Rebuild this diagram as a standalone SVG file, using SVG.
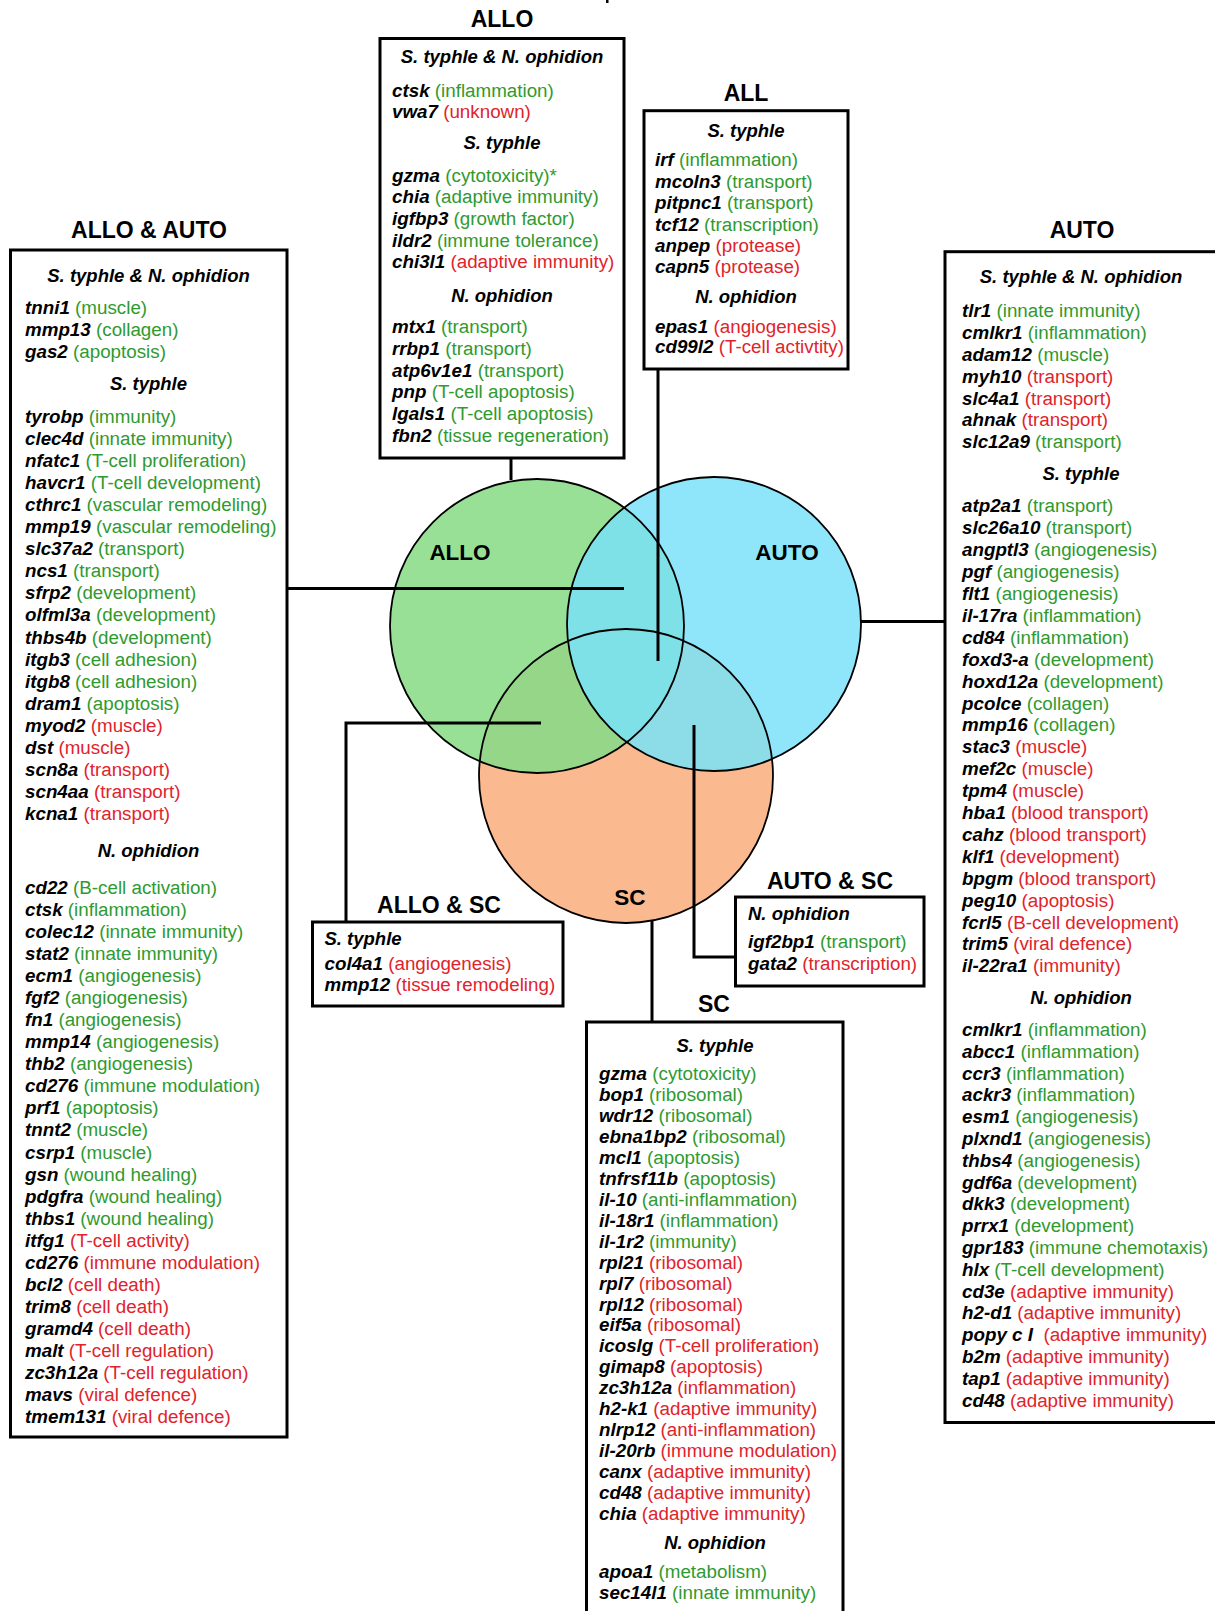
<svg xmlns="http://www.w3.org/2000/svg" width="1215" height="1611" viewBox="0 0 1215 1611">
<style>
text{font-family:"Liberation Sans",Arial,Helvetica,sans-serif;font-size:18.8px;fill:#000}
.gn{font-weight:bold;font-style:italic}
.u{fill:#2f9a2f}
.d{fill:#e1232b}
.sub{font-weight:bold;font-style:italic;text-anchor:middle;font-size:18.5px}
.subl{font-weight:bold;font-style:italic;font-size:18.5px}
.hd{font-weight:bold;font-size:23px;text-anchor:middle}
.cl{font-weight:bold;font-size:22.5px;text-anchor:middle}
.box{fill:#fff;stroke:#000;stroke-width:3}
.ln{fill:none;stroke:#000;stroke-width:3}
.ring{fill:none;stroke:#000;stroke-width:1.8}
</style>
<defs>
<clipPath id="cSC"><circle cx="626" cy="776" r="147"/></clipPath>
<clipPath id="cALLO"><circle cx="537" cy="626" r="147"/></clipPath>
</defs>
<rect x="0" y="0" width="1215" height="1611" fill="#fff"/>
<rect x="606" y="0" width="2.5" height="3" fill="#000"/>

<g id="venn">
<circle cx="626" cy="776" r="147" fill="#fab98f"/>
<circle cx="537" cy="626" r="147" fill="#98e096"/>
<circle cx="714" cy="624" r="147" fill="#8fe6fa"/>
<circle cx="537" cy="626" r="147" fill="#95d689" clip-path="url(#cSC)"/>
<circle cx="714" cy="624" r="147" fill="#8ddde9" clip-path="url(#cSC)"/>
<circle cx="714" cy="624" r="147" fill="#7fe1e8" clip-path="url(#cALLO)"/>
<circle class="ring" cx="626" cy="776" r="147"/>
<circle class="ring" cx="537" cy="626" r="147"/>
<circle class="ring" cx="714" cy="624" r="147"/>
<text class="cl" x="460" y="560">ALLO</text>
<text class="cl" x="787" y="560">AUTO</text>
<text class="cl" x="630" y="905">SC</text>
</g>

<g id="connectors">
<path class="ln" d="M287 588.5H624"/>
<path class="ln" d="M511 457V480"/>
<path class="ln" d="M658 368V661"/>
<path class="ln" d="M945 621.5H861"/>
<path class="ln" d="M541 723H346V922"/>
<path class="ln" d="M694 725V957H735"/>
<path class="ln" d="M652 921V1022"/>
</g>

<g id="allo">
<text class="hd" x="502" y="26.7">ALLO</text>
<rect class="box" x="380" y="38.5" width="244" height="419.5"/>
<text class="sub" x="502" y="63.3">S. typhle &amp; N. ophidion</text>
<text x="392" y="96.7"><tspan class="gn">ctsk </tspan><tspan class="u">(inflammation)</tspan></text>
<text x="392" y="118.3"><tspan class="gn">vwa7 </tspan><tspan class="d">(unknown)</tspan></text>
<text class="sub" x="502" y="149.3">S. typhle</text>
<text x="392" y="181.7"><tspan class="gn">gzma </tspan><tspan class="u">(cytotoxicity)*</tspan></text>
<text x="392" y="203.3"><tspan class="gn">chia </tspan><tspan class="u">(adaptive immunity)</tspan></text>
<text x="392" y="225"><tspan class="gn">igfbp3 </tspan><tspan class="u">(growth factor)</tspan></text>
<text x="392" y="246.7"><tspan class="gn">ildr2 </tspan><tspan class="u">(immune tolerance)</tspan></text>
<text x="392" y="268.3"><tspan class="gn">chi3l1 </tspan><tspan class="d">(adaptive immunity)</tspan></text>
<text class="sub" x="502" y="301.7">N. ophidion</text>
<text x="392" y="333.3"><tspan class="gn">mtx1 </tspan><tspan class="u">(transport)</tspan></text>
<text x="392" y="355"><tspan class="gn">rrbp1 </tspan><tspan class="u">(transport)</tspan></text>
<text x="392" y="376.7"><tspan class="gn">atp6v1e1 </tspan><tspan class="u">(transport)</tspan></text>
<text x="392" y="398.3"><tspan class="gn">pnp </tspan><tspan class="u">(T-cell apoptosis)</tspan></text>
<text x="392" y="420"><tspan class="gn">lgals1 </tspan><tspan class="u">(T-cell apoptosis)</tspan></text>
<text x="392" y="441.7"><tspan class="gn">fbn2 </tspan><tspan class="u">(tissue regeneration)</tspan></text>
</g>

<g id="all">
<text class="hd" x="746" y="100.7">ALL</text>
<rect class="box" x="644" y="110.7" width="204" height="258.3"/>
<text class="sub" x="746" y="136.7">S. typhle</text>
<text x="655" y="166"><tspan class="gn">irf </tspan><tspan class="u">(inflammation)</tspan></text>
<text x="655" y="187.7"><tspan class="gn">mcoln3 </tspan><tspan class="u">(transport)</tspan></text>
<text x="655" y="209"><tspan class="gn">pitpnc1 </tspan><tspan class="u">(transport)</tspan></text>
<text x="655" y="230.7"><tspan class="gn">tcf12 </tspan><tspan class="u">(transcription)</tspan></text>
<text x="655" y="252"><tspan class="gn">anpep </tspan><tspan class="d">(protease)</tspan></text>
<text x="655" y="273.3"><tspan class="gn">capn5 </tspan><tspan class="d">(protease)</tspan></text>
<text class="sub" x="746" y="303.3">N. ophidion</text>
<text x="655" y="332.7"><tspan class="gn">epas1 </tspan><tspan class="d">(angiogenesis)</tspan></text>
<text x="655" y="353.3"><tspan class="gn">cd99l2 </tspan><tspan class="d">(T-cell activtity)</tspan></text>
</g>

<g id="allo-auto">
<text class="hd" x="149" y="238">ALLO &amp; AUTO</text>
<rect class="box" x="10.5" y="250" width="276.5" height="1187"/>
<text class="sub" x="148.5" y="281.7">S. typhle &amp; N. ophidion</text>
<text x="25" y="314"><tspan class="gn">tnni1 </tspan><tspan class="u">(muscle)</tspan></text>
<text x="25" y="336.1"><tspan class="gn">mmp13 </tspan><tspan class="u">(collagen)</tspan></text>
<text x="25" y="358.2"><tspan class="gn">gas2 </tspan><tspan class="u">(apoptosis)</tspan></text>
<text class="sub" x="148.5" y="390">S. typhle</text>
<text x="25" y="422.7"><tspan class="gn">tyrobp </tspan><tspan class="u">(immunity)</tspan></text>
<text x="25" y="444.8"><tspan class="gn">clec4d </tspan><tspan class="u">(innate immunity)</tspan></text>
<text x="25" y="466.9"><tspan class="gn">nfatc1 </tspan><tspan class="u">(T-cell proliferation)</tspan></text>
<text x="25" y="488.9"><tspan class="gn">havcr1 </tspan><tspan class="u">(T-cell development)</tspan></text>
<text x="25" y="511"><tspan class="gn">cthrc1 </tspan><tspan class="u">(vascular remodeling)</tspan></text>
<text x="25" y="533.1"><tspan class="gn">mmp19 </tspan><tspan class="u">(vascular remodeling)</tspan></text>
<text x="25" y="555.2"><tspan class="gn">slc37a2 </tspan><tspan class="u">(transport)</tspan></text>
<text x="25" y="577.3"><tspan class="gn">ncs1 </tspan><tspan class="u">(transport)</tspan></text>
<text x="25" y="599.3"><tspan class="gn">sfrp2 </tspan><tspan class="u">(development)</tspan></text>
<text x="25" y="621.4"><tspan class="gn">olfml3a </tspan><tspan class="u">(development)</tspan></text>
<text x="25" y="643.5"><tspan class="gn">thbs4b </tspan><tspan class="u">(development)</tspan></text>
<text x="25" y="665.6"><tspan class="gn">itgb3 </tspan><tspan class="u">(cell adhesion)</tspan></text>
<text x="25" y="687.7"><tspan class="gn">itgb8 </tspan><tspan class="u">(cell adhesion)</tspan></text>
<text x="25" y="709.7"><tspan class="gn">dram1 </tspan><tspan class="u">(apoptosis)</tspan></text>
<text x="25" y="731.8"><tspan class="gn">myod2 </tspan><tspan class="d">(muscle)</tspan></text>
<text x="25" y="753.9"><tspan class="gn">dst </tspan><tspan class="d">(muscle)</tspan></text>
<text x="25" y="776"><tspan class="gn">scn8a </tspan><tspan class="d">(transport)</tspan></text>
<text x="25" y="798.1"><tspan class="gn">scn4aa </tspan><tspan class="d">(transport)</tspan></text>
<text x="25" y="820.1"><tspan class="gn">kcna1 </tspan><tspan class="d">(transport)</tspan></text>
<text class="sub" x="148.5" y="857">N. ophidion</text>
<text x="25" y="893.5"><tspan class="gn">cd22 </tspan><tspan class="u">(B-cell activation)</tspan></text>
<text x="25" y="915.6"><tspan class="gn">ctsk </tspan><tspan class="u">(inflammation)</tspan></text>
<text x="25" y="937.7"><tspan class="gn">colec12 </tspan><tspan class="u">(innate immunity)</tspan></text>
<text x="25" y="959.7"><tspan class="gn">stat2 </tspan><tspan class="u">(innate immunity)</tspan></text>
<text x="25" y="981.8"><tspan class="gn">ecm1 </tspan><tspan class="u">(angiogenesis)</tspan></text>
<text x="25" y="1003.9"><tspan class="gn">fgf2 </tspan><tspan class="u">(angiogenesis)</tspan></text>
<text x="25" y="1026"><tspan class="gn">fn1 </tspan><tspan class="u">(angiogenesis)</tspan></text>
<text x="25" y="1048.1"><tspan class="gn">mmp14 </tspan><tspan class="u">(angiogenesis)</tspan></text>
<text x="25" y="1070.1"><tspan class="gn">thb2 </tspan><tspan class="u">(angiogenesis)</tspan></text>
<text x="25" y="1092.2"><tspan class="gn">cd276 </tspan><tspan class="u">(immune modulation)</tspan></text>
<text x="25" y="1114.3"><tspan class="gn">prf1 </tspan><tspan class="u">(apoptosis)</tspan></text>
<text x="25" y="1136.4"><tspan class="gn">tnnt2 </tspan><tspan class="u">(muscle)</tspan></text>
<text x="25" y="1158.5"><tspan class="gn">csrp1 </tspan><tspan class="u">(muscle)</tspan></text>
<text x="25" y="1180.5"><tspan class="gn">gsn </tspan><tspan class="u">(wound healing)</tspan></text>
<text x="25" y="1202.6"><tspan class="gn">pdgfra </tspan><tspan class="u">(wound healing)</tspan></text>
<text x="25" y="1224.7"><tspan class="gn">thbs1 </tspan><tspan class="u">(wound healing)</tspan></text>
<text x="25" y="1246.8"><tspan class="gn">itfg1 </tspan><tspan class="d">(T-cell activity)</tspan></text>
<text x="25" y="1268.9"><tspan class="gn">cd276 </tspan><tspan class="d">(immune modulation)</tspan></text>
<text x="25" y="1290.9"><tspan class="gn">bcl2 </tspan><tspan class="d">(cell death)</tspan></text>
<text x="25" y="1313"><tspan class="gn">trim8 </tspan><tspan class="d">(cell death)</tspan></text>
<text x="25" y="1335.1"><tspan class="gn">gramd4 </tspan><tspan class="d">(cell death)</tspan></text>
<text x="25" y="1357.2"><tspan class="gn">malt </tspan><tspan class="d">(T-cell regulation)</tspan></text>
<text x="25" y="1379.3"><tspan class="gn">zc3h12a </tspan><tspan class="d">(T-cell regulation)</tspan></text>
<text x="25" y="1401.3"><tspan class="gn">mavs </tspan><tspan class="d">(viral defence)</tspan></text>
<text x="25" y="1423.4"><tspan class="gn">tmem131 </tspan><tspan class="d">(viral defence)</tspan></text>
</g>

<g id="auto">
<text class="hd" x="1082" y="238">AUTO</text>
<rect class="box" x="945" y="251.7" width="273" height="1170.8"/>
<text class="sub" x="1081" y="282.7">S. typhle &amp; N. ophidion</text>
<text x="962" y="317.3"><tspan class="gn">tlr1 </tspan><tspan class="u">(innate immunity)</tspan></text>
<text x="962" y="339.1"><tspan class="gn">cmlkr1 </tspan><tspan class="u">(inflammation)</tspan></text>
<text x="962" y="360.9"><tspan class="gn">adam12 </tspan><tspan class="u">(muscle)</tspan></text>
<text x="962" y="382.7"><tspan class="gn">myh10 </tspan><tspan class="d">(transport)</tspan></text>
<text x="962" y="404.5"><tspan class="gn">slc4a1 </tspan><tspan class="d">(transport)</tspan></text>
<text x="962" y="426.3"><tspan class="gn">ahnak </tspan><tspan class="d">(transport)</tspan></text>
<text x="962" y="448.1"><tspan class="gn">slc12a9 </tspan><tspan class="u">(transport)</tspan></text>
<text class="sub" x="1081" y="479.5">S. typhle</text>
<text x="962" y="512.4"><tspan class="gn">atp2a1 </tspan><tspan class="u">(transport)</tspan></text>
<text x="962" y="534.3"><tspan class="gn">slc26a10 </tspan><tspan class="u">(transport)</tspan></text>
<text x="962" y="556.2"><tspan class="gn">angptl3 </tspan><tspan class="u">(angiogenesis)</tspan></text>
<text x="962" y="578.1"><tspan class="gn">pgf </tspan><tspan class="u">(angiogenesis)</tspan></text>
<text x="962" y="600"><tspan class="gn">flt1 </tspan><tspan class="u">(angiogenesis)</tspan></text>
<text x="962" y="621.9"><tspan class="gn">il-17ra </tspan><tspan class="u">(inflammation)</tspan></text>
<text x="962" y="643.8"><tspan class="gn">cd84 </tspan><tspan class="u">(inflammation)</tspan></text>
<text x="962" y="665.7"><tspan class="gn">foxd3-a </tspan><tspan class="u">(development)</tspan></text>
<text x="962" y="687.6"><tspan class="gn">hoxd12a </tspan><tspan class="u">(development)</tspan></text>
<text x="962" y="709.5"><tspan class="gn">pcolce </tspan><tspan class="u">(collagen)</tspan></text>
<text x="962" y="731.4"><tspan class="gn">mmp16 </tspan><tspan class="u">(collagen)</tspan></text>
<text x="962" y="753.3"><tspan class="gn">stac3 </tspan><tspan class="d">(muscle)</tspan></text>
<text x="962" y="775.2"><tspan class="gn">mef2c </tspan><tspan class="d">(muscle)</tspan></text>
<text x="962" y="797.1"><tspan class="gn">tpm4 </tspan><tspan class="d">(muscle)</tspan></text>
<text x="962" y="819"><tspan class="gn">hba1 </tspan><tspan class="d">(blood transport)</tspan></text>
<text x="962" y="840.9"><tspan class="gn">cahz </tspan><tspan class="d">(blood transport)</tspan></text>
<text x="962" y="862.8"><tspan class="gn">klf1 </tspan><tspan class="d">(development)</tspan></text>
<text x="962" y="884.7"><tspan class="gn">bpgm </tspan><tspan class="d">(blood transport)</tspan></text>
<text x="962" y="906.6"><tspan class="gn">peg10 </tspan><tspan class="d">(apoptosis)</tspan></text>
<text x="962" y="928.5"><tspan class="gn">fcrl5 </tspan><tspan class="d">(B-cell development)</tspan></text>
<text x="962" y="950.4"><tspan class="gn">trim5 </tspan><tspan class="d">(viral defence)</tspan></text>
<text x="962" y="972.3"><tspan class="gn">il-22ra1 </tspan><tspan class="d">(immunity)</tspan></text>
<text class="sub" x="1081" y="1004">N. ophidion</text>
<text x="962" y="1036"><tspan class="gn">cmlkr1 </tspan><tspan class="u">(inflammation)</tspan></text>
<text x="962" y="1057.8"><tspan class="gn">abcc1 </tspan><tspan class="u">(inflammation)</tspan></text>
<text x="962" y="1079.6"><tspan class="gn">ccr3 </tspan><tspan class="u">(inflammation)</tspan></text>
<text x="962" y="1101.4"><tspan class="gn">ackr3 </tspan><tspan class="u">(inflammation)</tspan></text>
<text x="962" y="1123.2"><tspan class="gn">esm1 </tspan><tspan class="u">(angiogenesis)</tspan></text>
<text x="962" y="1145"><tspan class="gn">plxnd1 </tspan><tspan class="u">(angiogenesis)</tspan></text>
<text x="962" y="1166.8"><tspan class="gn">thbs4 </tspan><tspan class="u">(angiogenesis)</tspan></text>
<text x="962" y="1188.6"><tspan class="gn">gdf6a </tspan><tspan class="u">(development)</tspan></text>
<text x="962" y="1210.4"><tspan class="gn">dkk3 </tspan><tspan class="u">(development)</tspan></text>
<text x="962" y="1232.2"><tspan class="gn">prrx1 </tspan><tspan class="u">(development)</tspan></text>
<text x="962" y="1254"><tspan class="gn">gpr183 </tspan><tspan class="u">(immune chemotaxis)</tspan></text>
<text x="962" y="1275.8"><tspan class="gn">hlx </tspan><tspan class="u">(T-cell development)</tspan></text>
<text x="962" y="1297.6"><tspan class="gn">cd3e </tspan><tspan class="d">(adaptive immunity)</tspan></text>
<text x="962" y="1319.4"><tspan class="gn">h2-d1 </tspan><tspan class="d">(adaptive immunity)</tspan></text>
<text x="962" y="1341.2"><tspan class="gn">popy c I </tspan><tspan class="d">&#160;(adaptive immunity)</tspan></text>
<text x="962" y="1363"><tspan class="gn">b2m </tspan><tspan class="d">(adaptive immunity)</tspan></text>
<text x="962" y="1384.8"><tspan class="gn">tap1 </tspan><tspan class="d">(adaptive immunity)</tspan></text>
<text x="962" y="1406.6"><tspan class="gn">cd48 </tspan><tspan class="d">(adaptive immunity)</tspan></text>
</g>

<g id="allo-sc">
<text class="hd" x="439" y="913">ALLO &amp; SC</text>
<rect class="box" x="312.5" y="922" width="250.5" height="84"/>
<text class="subl" x="324.5" y="945">S. typhle</text>
<text x="324.5" y="969.5"><tspan class="gn">col4a1 </tspan><tspan class="d">(angiogenesis)</tspan></text>
<text x="324.5" y="991"><tspan class="gn">mmp12 </tspan><tspan class="d">(tissue remodeling)</tspan></text>
</g>

<g id="auto-sc">
<text class="hd" x="830" y="888.5">AUTO &amp; SC</text>
<rect class="box" x="735.5" y="897" width="188.5" height="89"/>
<text class="subl" x="748" y="920">N. ophidion</text>
<text x="748" y="948"><tspan class="gn">igf2bp1 </tspan><tspan class="u">(transport)</tspan></text>
<text x="748" y="969.5"><tspan class="gn">gata2 </tspan><tspan class="d">(transcription)</tspan></text>
</g>

<g id="sc">
<text class="hd" x="714" y="1012">SC</text>
<rect class="box" x="586.5" y="1022" width="256.5" height="600"/>
<text class="sub" x="715" y="1052">S. typhle</text>
<text x="599" y="1080"><tspan class="gn">gzma </tspan><tspan class="u">(cytotoxicity)</tspan></text>
<text x="599" y="1101"><tspan class="gn">bop1 </tspan><tspan class="u">(ribosomal)</tspan></text>
<text x="599" y="1121.9"><tspan class="gn">wdr12 </tspan><tspan class="u">(ribosomal)</tspan></text>
<text x="599" y="1142.9"><tspan class="gn">ebna1bp2 </tspan><tspan class="u">(ribosomal)</tspan></text>
<text x="599" y="1163.8"><tspan class="gn">mcl1 </tspan><tspan class="u">(apoptosis)</tspan></text>
<text x="599" y="1184.8"><tspan class="gn">tnfrsf11b </tspan><tspan class="u">(apoptosis)</tspan></text>
<text x="599" y="1205.7"><tspan class="gn">il-10 </tspan><tspan class="u">(anti-inflammation)</tspan></text>
<text x="599" y="1226.7"><tspan class="gn">il-18r1 </tspan><tspan class="u">(inflammation)</tspan></text>
<text x="599" y="1247.6"><tspan class="gn">il-1r2 </tspan><tspan class="u">(immunity)</tspan></text>
<text x="599" y="1268.6"><tspan class="gn">rpl21 </tspan><tspan class="d">(ribosomal)</tspan></text>
<text x="599" y="1289.5"><tspan class="gn">rpl7 </tspan><tspan class="d">(ribosomal)</tspan></text>
<text x="599" y="1310.5"><tspan class="gn">rpl12 </tspan><tspan class="d">(ribosomal)</tspan></text>
<text x="599" y="1331.4"><tspan class="gn">eif5a </tspan><tspan class="d">(ribosomal)</tspan></text>
<text x="599" y="1352.4"><tspan class="gn">icoslg </tspan><tspan class="d">(T-cell proliferation)</tspan></text>
<text x="599" y="1373.3"><tspan class="gn">gimap8 </tspan><tspan class="d">(apoptosis)</tspan></text>
<text x="599" y="1394.3"><tspan class="gn">zc3h12a </tspan><tspan class="d">(inflammation)</tspan></text>
<text x="599" y="1415.2"><tspan class="gn">h2-k1 </tspan><tspan class="d">(adaptive immunity)</tspan></text>
<text x="599" y="1436.2"><tspan class="gn">nlrp12 </tspan><tspan class="d">(anti-inflammation)</tspan></text>
<text x="599" y="1457.1"><tspan class="gn">il-20rb </tspan><tspan class="d">(immune modulation)</tspan></text>
<text x="599" y="1478.1"><tspan class="gn">canx </tspan><tspan class="d">(adaptive immunity)</tspan></text>
<text x="599" y="1499"><tspan class="gn">cd48 </tspan><tspan class="d">(adaptive immunity)</tspan></text>
<text x="599" y="1520"><tspan class="gn">chia </tspan><tspan class="d">(adaptive immunity)</tspan></text>
<text class="sub" x="715" y="1549">N. ophidion</text>
<text x="599" y="1577.5"><tspan class="gn">apoa1 </tspan><tspan class="u">(metabolism)</tspan></text>
<text x="599" y="1599"><tspan class="gn">sec14l1 </tspan><tspan class="u">(innate immunity)</tspan></text>
</g>
</svg>
